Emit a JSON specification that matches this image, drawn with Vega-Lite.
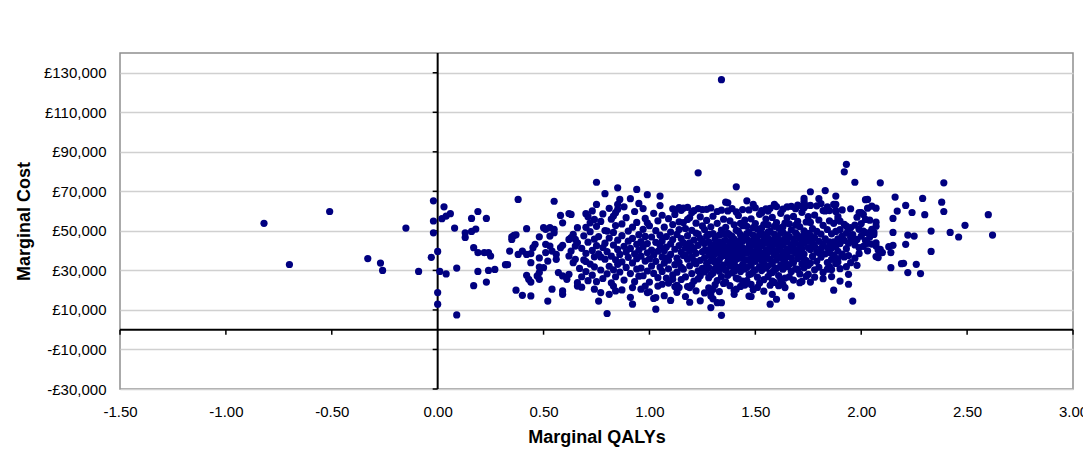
{
  "$schema": "https://vega.github.io/schema/vega-lite/v6.json",
  "width": 953,
  "height": 336,
  "autosize": {"type": "none"},
  "padding": {"left": 120, "top": 53, "right": 10, "bottom": 66},
  "background": "white",
  "config": {
    "view": {"stroke": "#8f8f8f", "strokeWidth": 1.5},
    "font": "Liberation Sans"
  },
  "datasets": {
    "xticks": [{"qaly": -1.5}, {"qaly": -1}, {"qaly": -0.5}, {"qaly": 0.5}, {"qaly": 1}, {"qaly": 1.5}, {"qaly": 2}, {"qaly": 2.5}, {"qaly": 3}],
    "yticks": [{"cost": -30000}, {"cost": -10000}, {"cost": 10000}, {"cost": 30000}, {"cost": 50000}, {"cost": 70000}, {"cost": 90000}, {"cost": 110000}, {"cost": 130000}],
    "points": [
      {"qaly": -0.82, "cost": 53800}, {"qaly": -0.70, "cost": 33000}, {"qaly": -0.51, "cost": 59800}, {"qaly": -0.33, "cost": 36000},
      {"qaly": -0.27, "cost": 33700}, {"qaly": -0.26, "cost": 30000}, {"qaly": -0.15, "cost": 51400}, {"qaly": -0.09, "cost": 29500},
      {"qaly": -0.02, "cost": 65200}, {"qaly": -0.02, "cost": 55000}, {"qaly": -0.02, "cost": 49000}, {"qaly": -0.03, "cost": 36600},
      {"qaly": 0.00, "cost": 39600}, {"qaly": 0.01, "cost": 29500}, {"qaly": 0.00, "cost": 18800}, {"qaly": 0.00, "cost": 12900},
      {"qaly": 0.03, "cost": 62200}, {"qaly": 0.02, "cost": 56200}, {"qaly": 0.04, "cost": 57500}, {"qaly": 0.06, "cost": 58700},
      {"qaly": 0.04, "cost": 28200}, {"qaly": 0.08, "cost": 51400}, {"qaly": 0.09, "cost": 31200}, {"qaly": 0.09, "cost": 7500},
      {"qaly": 0.16, "cost": 56300}, {"qaly": 0.19, "cost": 59800}, {"qaly": 0.23, "cost": 56300}, {"qaly": 0.13, "cost": 49000},
      {"qaly": 0.13, "cost": 46700}, {"qaly": 0.16, "cost": 49700}, {"qaly": 0.18, "cost": 50900}, {"qaly": 0.17, "cost": 41500},
      {"qaly": 0.19, "cost": 39000}, {"qaly": 0.22, "cost": 39000}, {"qaly": 0.24, "cost": 39000}, {"qaly": 0.25, "cost": 37300},
      {"qaly": 0.19, "cost": 29500}, {"qaly": 0.24, "cost": 30000}, {"qaly": 0.27, "cost": 30500}, {"qaly": 0.17, "cost": 22300},
      {"qaly": 0.23, "cost": 24100}, {"qaly": 0.38, "cost": 65900}, {"qaly": 0.32, "cost": 32900}, {"qaly": 0.33, "cost": 32900},
      {"qaly": 0.34, "cost": 39800}, {"qaly": 0.35, "cost": 47000}, {"qaly": 0.36, "cost": 47700}, {"qaly": 0.37, "cost": 48000},
      {"qaly": 0.35, "cost": 45700}, {"qaly": 0.37, "cost": 20000}, {"qaly": 0.40, "cost": 17400}, {"qaly": 0.44, "cost": 17100},
      {"qaly": 0.42, "cost": 27500}, {"qaly": 0.43, "cost": 25500}, {"qaly": 0.44, "cost": 24100}, {"qaly": 0.38, "cost": 38100},
      {"qaly": 0.40, "cost": 39800}, {"qaly": 0.42, "cost": 38100}, {"qaly": 0.44, "cost": 38500}, {"qaly": 0.44, "cost": 33900},
      {"qaly": 0.45, "cost": 41500}, {"qaly": 0.46, "cost": 43200}, {"qaly": 0.48, "cost": 47000}, {"qaly": 0.48, "cost": 36300},
      {"qaly": 0.48, "cost": 28900}, {"qaly": 0.47, "cost": 27200}, {"qaly": 0.48, "cost": 25500}, {"qaly": 0.42, "cost": 51100},
      {"qaly": 0.50, "cost": 51600}, {"qaly": 0.51, "cost": 50800}, {"qaly": 0.53, "cost": 51600}, {"qaly": 0.55, "cost": 50800},
      {"qaly": 0.55, "cost": 49100}, {"qaly": 0.55, "cost": 65000}, {"qaly": 0.50, "cost": 31400}, {"qaly": 0.48, "cost": 31700},
      {"qaly": 0.52, "cost": 14500}, {"qaly": 0.54, "cost": 20500}, {"qaly": 0.59, "cost": 19600}, {"qaly": 0.59, "cost": 17900},
      {"qaly": 0.53, "cost": 47400}, {"qaly": 0.51, "cost": 43200}, {"qaly": 0.53, "cost": 42300}, {"qaly": 0.51, "cost": 39000},
      {"qaly": 0.54, "cost": 39800}, {"qaly": 0.52, "cost": 34700}, {"qaly": 0.56, "cost": 35600}, {"qaly": 0.56, "cost": 38100},
      {"qaly": 0.58, "cost": 41500}, {"qaly": 0.59, "cost": 42700}, {"qaly": 0.62, "cost": 45700}, {"qaly": 0.63, "cost": 46600},
      {"qaly": 0.57, "cost": 28900}, {"qaly": 0.59, "cost": 27200}, {"qaly": 0.61, "cost": 25500}, {"qaly": 0.62, "cost": 28000},
      {"qaly": 0.66, "cost": 22100}, {"qaly": 0.66, "cost": 23800}, {"qaly": 0.65, "cost": 35600}, {"qaly": 0.64, "cost": 33900},
      {"qaly": 0.62, "cost": 37300}, {"qaly": 0.63, "cost": 39800}, {"qaly": 0.65, "cost": 42300}, {"qaly": 0.66, "cost": 44000},
      {"qaly": 0.64, "cost": 48200}, {"qaly": 0.65, "cost": 45700}, {"qaly": 0.66, "cost": 51600}, {"qaly": 0.58, "cost": 57800},
      {"qaly": 0.59, "cost": 54100}, {"qaly": 0.62, "cost": 58800}, {"qaly": 0.63, "cost": 58300}, {"qaly": 0.70, "cost": 58700},
      {"qaly": 0.74, "cost": 55800}, {"qaly": 0.75, "cost": 63400}, {"qaly": 0.75, "cost": 74600}, {"qaly": 0.79, "cost": 68800},
      {"qaly": 0.85, "cost": 71800}, {"qaly": 0.94, "cost": 71000}, {"qaly": 0.99, "cost": 68300}, {"qaly": 1.05, "cost": 67600},
      {"qaly": 1.23, "cost": 79400}, {"qaly": 1.36, "cost": 64500}, {"qaly": 0.86, "cost": 65900}, {"qaly": 0.85, "cost": 63400},
      {"qaly": 0.84, "cost": 59200}, {"qaly": 0.85, "cost": 60900}, {"qaly": 0.91, "cost": 66300}, {"qaly": 0.95, "cost": 63900},
      {"qaly": 1.34, "cost": 126500},
      {"qaly": 0.80, "cost": 8200}, {"qaly": 0.76, "cost": 14500}, {"qaly": 0.92, "cost": 12900}, {"qaly": 1.03, "cost": 10400},
      {"qaly": 1.03, "cost": 16300}, {"qaly": 0.74, "cost": 20500}, {"qaly": 0.77, "cost": 18800}, {"qaly": 0.81, "cost": 17900},
      {"qaly": 0.83, "cost": 22100}, {"qaly": 0.84, "cost": 19600}, {"qaly": 0.87, "cost": 20100}, {"qaly": 0.92, "cost": 21300},
      {"qaly": 0.96, "cost": 20500}, {"qaly": 0.98, "cost": 22100}, {"qaly": 0.99, "cost": 18800}, {"qaly": 1.04, "cost": 22100},
      {"qaly": 1.06, "cost": 23000}, {"qaly": 1.11, "cost": 25500}, {"qaly": 1.13, "cost": 22500}, {"qaly": 1.14, "cost": 21300},
      {"qaly": 1.18, "cost": 21800}, {"qaly": 1.19, "cost": 21300}, {"qaly": 1.29, "cost": 17100}, {"qaly": 1.29, "cost": 18800},
      {"qaly": 1.30, "cost": 20500}, {"qaly": 1.32, "cost": 13700}, {"qaly": 1.34, "cost": 13700}, {"qaly": 1.34, "cost": 7300},
      {"qaly": 1.29, "cost": 11200}, {"qaly": 1.41, "cost": 72300}, {"qaly": 1.93, "cost": 83700}, {"qaly": 1.92, "cost": 79900},
      {"qaly": 1.97, "cost": 74600}, {"qaly": 1.76, "cost": 69800}, {"qaly": 1.83, "cost": 70400}, {"qaly": 1.88, "cost": 67600},
      {"qaly": 1.80, "cost": 66300}, {"qaly": 1.87, "cost": 63400}, {"qaly": 2.02, "cost": 65800}, {"qaly": 2.03, "cost": 61500},
      {"qaly": 1.37, "cost": 64200}, {"qaly": 1.46, "cost": 65200}, {"qaly": 1.49, "cost": 63400}, {"qaly": 1.59, "cost": 63400},
      {"qaly": 1.73, "cost": 65000}, {"qaly": 1.72, "cost": 62500}, {"qaly": 1.76, "cost": 62900}, {"qaly": 1.41, "cost": 20500},
      {"qaly": 1.40, "cost": 17900}, {"qaly": 1.47, "cost": 17000}, {"qaly": 1.48, "cost": 16800}, {"qaly": 1.57, "cost": 22500},
      {"qaly": 1.58, "cost": 17900}, {"qaly": 1.57, "cost": 12900}, {"qaly": 1.60, "cost": 15400}, {"qaly": 1.63, "cost": 23000},
      {"qaly": 1.67, "cost": 17100}, {"qaly": 1.71, "cost": 23800}, {"qaly": 1.76, "cost": 24100}, {"qaly": 1.75, "cost": 28000},
      {"qaly": 1.84, "cost": 30600}, {"qaly": 1.87, "cost": 20000}, {"qaly": 1.90, "cost": 24600}, {"qaly": 1.94, "cost": 23000},
      {"qaly": 1.94, "cost": 28000}, {"qaly": 1.96, "cost": 14500}, {"qaly": 1.98, "cost": 32600}, {"qaly": 1.95, "cost": 33900},
      {"qaly": 1.92, "cost": 36800}, {"qaly": 1.89, "cost": 36000}, {"qaly": 1.86, "cost": 35600}, {"qaly": 1.73, "cost": 66400},
      {"qaly": 2.09, "cost": 74300}, {"qaly": 2.39, "cost": 74300}, {"qaly": 2.16, "cost": 67100}, {"qaly": 2.29, "cost": 66400},
      {"qaly": 2.38, "cost": 64500}, {"qaly": 2.39, "cost": 59800}, {"qaly": 2.21, "cost": 62900}, {"qaly": 2.24, "cost": 59300},
      {"qaly": 2.30, "cost": 58200}, {"qaly": 2.17, "cost": 60000}, {"qaly": 2.15, "cost": 56300}, {"qaly": 2.60, "cost": 58200},
      {"qaly": 2.49, "cost": 52800}, {"qaly": 2.62, "cost": 47900}, {"qaly": 2.46, "cost": 46900}, {"qaly": 2.42, "cost": 49200},
      {"qaly": 2.33, "cost": 49900}, {"qaly": 2.25, "cost": 47400}, {"qaly": 2.22, "cost": 47900}, {"qaly": 2.15, "cost": 49200},
      {"qaly": 2.33, "cost": 39600}, {"qaly": 2.21, "cost": 43200}, {"qaly": 2.15, "cost": 42700}, {"qaly": 2.13, "cost": 42000},
      {"qaly": 2.14, "cost": 39000}, {"qaly": 2.10, "cost": 39000}, {"qaly": 2.07, "cost": 37000}, {"qaly": 2.08, "cost": 40300},
      {"qaly": 2.14, "cost": 31400}, {"qaly": 2.20, "cost": 33600}, {"qaly": 2.26, "cost": 33100}, {"qaly": 2.22, "cost": 28900},
      {"qaly": 2.28, "cost": 28400}, {"qaly": 2.07, "cost": 54400}, {"qaly": 2.04, "cost": 55400}, {"qaly": 2.02, "cost": 55800},
      {"qaly": 2.06, "cost": 49400}, {"qaly": 2.05, "cost": 50800}, {"qaly": 2.03, "cost": 65900}, {"qaly": 2.05, "cost": 62500},
      {"qaly": 2.07, "cost": 61500}, {"qaly": 2.19, "cost": 33400}, {"qaly": 2.08, "cost": 36500}, {"qaly": 2.09, "cost": 39000},
      {"qaly": 2.07, "cost": 42300}, {"qaly": 2.07, "cost": 44000}, {"qaly": 2.04, "cost": 49100}, {"qaly": 2.03, "cost": 44000},
      {"qaly": 2.09, "cost": 40700}, {"qaly": 2.03, "cost": 43700}, {"qaly": 2.06, "cost": 48200}, {"qaly": 2.07, "cost": 52400},
      {"qaly": 2.02, "cost": 49100}, {"qaly": 1.99, "cost": 50800}, {"qaly": 1.95, "cost": 51600}, {"qaly": 1.93, "cost": 52400},
      {"qaly": 1.90, "cost": 54900}, {"qaly": 1.94, "cost": 50800}, {"qaly": 1.96, "cost": 44800}, {"qaly": 1.99, "cost": 41500},
      {"qaly": 1.89, "cost": 34200}, {"qaly": 1.88, "cost": 60300}, {"qaly": 1.85, "cost": 60300}, {"qaly": 1.82, "cost": 60300},
      {"qaly": 1.69, "cost": 61200}, {"qaly": 1.73, "cost": 61700}, {"qaly": 1.59, "cost": 62900}, {"qaly": 1.53, "cost": 59200},
      {"qaly": 1.56, "cost": 60000}, {"qaly": 1.89, "cost": 55800}, {"qaly": 1.95, "cost": 61200}, {"qaly": 1.99, "cost": 59200},
      {"qaly": 2.00, "cost": 59200}, {"qaly": 1.88, "cost": 63400},
      {"qaly": 0.67, "cost": 31000}, {"qaly": 0.68, "cost": 41200}, {"qaly": 0.68, "cost": 26800}, {"qaly": 0.69, "cost": 47500},
      {"qaly": 0.69, "cost": 35300}, {"qaly": 0.70, "cost": 51800}, {"qaly": 0.70, "cost": 38600}, {"qaly": 0.70, "cost": 29400},
      {"qaly": 0.71, "cost": 44300}, {"qaly": 0.71, "cost": 24800}, {"qaly": 0.72, "cost": 33200}, {"qaly": 0.72, "cost": 49600},
      {"qaly": 0.72, "cost": 54100}, {"qaly": 0.73, "cost": 40100}, {"qaly": 0.73, "cost": 27600}, {"qaly": 0.74, "cost": 36900},
      {"qaly": 0.74, "cost": 45800}, {"qaly": 0.74, "cost": 31800}, {"qaly": 0.75, "cost": 52300}, {"qaly": 0.75, "cost": 42500},
      {"qaly": 0.75, "cost": 24300}, {"qaly": 0.71, "cost": 57200}, {"qaly": 0.73, "cost": 60100}, {"qaly": 0.68, "cost": 21500},
      {"qaly": 0.70, "cost": 34500},
      {"qaly": 0.76, "cost": 38400}, {"qaly": 0.76, "cost": 47100}, {"qaly": 0.77, "cost": 30200}, {"qaly": 0.77, "cost": 54800},
      {"qaly": 0.78, "cost": 41600}, {"qaly": 0.78, "cost": 25900}, {"qaly": 0.79, "cost": 35700}, {"qaly": 0.79, "cost": 50200},
      {"qaly": 0.79, "cost": 43800}, {"qaly": 0.80, "cost": 28300}, {"qaly": 0.80, "cost": 39500}, {"qaly": 0.81, "cost": 46400},
      {"qaly": 0.81, "cost": 32100}, {"qaly": 0.82, "cost": 55900}, {"qaly": 0.82, "cost": 37200}, {"qaly": 0.82, "cost": 23700},
      {"qaly": 0.83, "cost": 42800}, {"qaly": 0.83, "cost": 49200}, {"qaly": 0.83, "cost": 30300}, {"qaly": 0.84, "cost": 35400},
      {"qaly": 0.84, "cost": 52700}, {"qaly": 0.84, "cost": 26800}, {"qaly": 0.85, "cost": 40600}, {"qaly": 0.85, "cost": 45300},
      {"qaly": 0.85, "cost": 33100}, {"qaly": 0.78, "cost": 58600}, {"qaly": 0.81, "cost": 61400}, {"qaly": 0.80, "cost": 49900},
      {"qaly": 0.77, "cost": 36800}, {"qaly": 0.83, "cost": 57500},
      {"qaly": 0.86, "cost": 38100}, {"qaly": 0.86, "cost": 29200}, {"qaly": 0.87, "cost": 47600}, {"qaly": 0.87, "cost": 53500},
      {"qaly": 0.87, "cost": 34300}, {"qaly": 0.88, "cost": 42200}, {"qaly": 0.88, "cost": 25100}, {"qaly": 0.89, "cost": 39200},
      {"qaly": 0.89, "cost": 56700}, {"qaly": 0.89, "cost": 31500}, {"qaly": 0.90, "cost": 44800}, {"qaly": 0.90, "cost": 36600},
      {"qaly": 0.90, "cost": 49900}, {"qaly": 0.91, "cost": 28400}, {"qaly": 0.91, "cost": 41100}, {"qaly": 0.92, "cost": 33800},
      {"qaly": 0.92, "cost": 51900}, {"qaly": 0.92, "cost": 46200}, {"qaly": 0.93, "cost": 38400}, {"qaly": 0.93, "cost": 24300},
      {"qaly": 0.93, "cost": 59800}, {"qaly": 0.94, "cost": 43200}, {"qaly": 0.94, "cost": 30700}, {"qaly": 0.94, "cost": 35900},
      {"qaly": 0.95, "cost": 48100}, {"qaly": 0.95, "cost": 40200}, {"qaly": 0.95, "cost": 27100}, {"qaly": 0.88, "cost": 62200},
      {"qaly": 0.91, "cost": 16400}, {"qaly": 0.94, "cost": 54300},
      {"qaly": 0.96, "cost": 37200}, {"qaly": 0.96, "cost": 44600}, {"qaly": 0.96, "cost": 31200}, {"qaly": 0.97, "cost": 50800},
      {"qaly": 0.97, "cost": 27300}, {"qaly": 0.97, "cost": 41900}, {"qaly": 0.98, "cost": 34700}, {"qaly": 0.98, "cost": 56300},
      {"qaly": 0.98, "cost": 47200}, {"qaly": 0.99, "cost": 38900}, {"qaly": 0.99, "cost": 29700}, {"qaly": 0.99, "cost": 43600},
      {"qaly": 1.00, "cost": 52600}, {"qaly": 1.00, "cost": 35800}, {"qaly": 1.00, "cost": 24100}, {"qaly": 1.01, "cost": 40300},
      {"qaly": 1.01, "cost": 46900}, {"qaly": 1.01, "cost": 32200}, {"qaly": 1.02, "cost": 58900}, {"qaly": 1.02, "cost": 37700},
      {"qaly": 1.02, "cost": 28500}, {"qaly": 1.03, "cost": 44200}, {"qaly": 1.03, "cost": 50100}, {"qaly": 1.03, "cost": 34600},
      {"qaly": 1.04, "cost": 39700}, {"qaly": 1.04, "cost": 26300}, {"qaly": 1.04, "cost": 55100}, {"qaly": 1.05, "cost": 42500},
      {"qaly": 1.05, "cost": 31700}, {"qaly": 1.05, "cost": 47800}, {"qaly": 0.97, "cost": 61300}, {"qaly": 1.00, "cost": 19200},
      {"qaly": 1.02, "cost": 15800}, {"qaly": 1.05, "cost": 62800}, {"qaly": 0.99, "cost": 54100},
      {"qaly": 1.06, "cost": 36800}, {"qaly": 1.06, "cost": 44900}, {"qaly": 1.06, "cost": 29500}, {"qaly": 1.07, "cost": 51900},
      {"qaly": 1.07, "cost": 39900}, {"qaly": 1.07, "cost": 33700}, {"qaly": 1.08, "cost": 47100}, {"qaly": 1.08, "cost": 26100},
      {"qaly": 1.08, "cost": 41800}, {"qaly": 1.09, "cost": 56200}, {"qaly": 1.09, "cost": 35200}, {"qaly": 1.09, "cost": 30800},
      {"qaly": 1.10, "cost": 43400}, {"qaly": 1.10, "cost": 49400}, {"qaly": 1.10, "cost": 38100}, {"qaly": 1.11, "cost": 27700},
      {"qaly": 1.11, "cost": 53200}, {"qaly": 1.11, "cost": 45600}, {"qaly": 1.12, "cost": 32900}, {"qaly": 1.12, "cost": 40700},
      {"qaly": 1.12, "cost": 58300}, {"qaly": 1.13, "cost": 36200}, {"qaly": 1.13, "cost": 48200}, {"qaly": 1.13, "cost": 29100},
      {"qaly": 1.14, "cost": 42600}, {"qaly": 1.14, "cost": 54600}, {"qaly": 1.14, "cost": 34100}, {"qaly": 1.15, "cost": 39300},
      {"qaly": 1.15, "cost": 46100}, {"qaly": 1.15, "cost": 25400}, {"qaly": 1.11, "cost": 61200}, {"qaly": 1.12, "cost": 60700},
      {"qaly": 1.14, "cost": 61800}, {"qaly": 1.15, "cost": 60400}, {"qaly": 1.16, "cost": 61500}, {"qaly": 1.07, "cost": 17200},
      {"qaly": 1.10, "cost": 14800}, {"qaly": 1.13, "cost": 18900}, {"qaly": 1.09, "cost": 23600}, {"qaly": 1.06, "cost": 57900},
      {"qaly": 1.12, "cost": 21800}, {"qaly": 1.15, "cost": 31600}, {"qaly": 1.08, "cost": 36300}, {"qaly": 1.14, "cost": 50700},
      {"qaly": 1.16, "cost": 37500}, {"qaly": 1.16, "cost": 44100}, {"qaly": 1.16, "cost": 30600}, {"qaly": 1.17, "cost": 51200},
      {"qaly": 1.17, "cost": 41300}, {"qaly": 1.17, "cost": 26700}, {"qaly": 1.18, "cost": 35700}, {"qaly": 1.18, "cost": 47600},
      {"qaly": 1.18, "cost": 55800}, {"qaly": 1.19, "cost": 39800}, {"qaly": 1.19, "cost": 32300}, {"qaly": 1.19, "cost": 43900},
      {"qaly": 1.20, "cost": 28400}, {"qaly": 1.20, "cost": 50300}, {"qaly": 1.20, "cost": 36900}, {"qaly": 1.21, "cost": 45300},
      {"qaly": 1.21, "cost": 41200}, {"qaly": 1.21, "cost": 24600}, {"qaly": 1.22, "cost": 53900}, {"qaly": 1.22, "cost": 33400},
      {"qaly": 1.22, "cost": 38600}, {"qaly": 1.23, "cost": 48400}, {"qaly": 1.23, "cost": 29800}, {"qaly": 1.23, "cost": 42700},
      {"qaly": 1.24, "cost": 57100}, {"qaly": 1.24, "cost": 35100}, {"qaly": 1.24, "cost": 46200}, {"qaly": 1.25, "cost": 39400},
      {"qaly": 1.25, "cost": 31100}, {"qaly": 1.25, "cost": 52500}, {"qaly": 1.18, "cost": 61900}, {"qaly": 1.21, "cost": 60200},
      {"qaly": 1.23, "cost": 61300}, {"qaly": 1.20, "cost": 59300}, {"qaly": 1.25, "cost": 60800}, {"qaly": 1.17, "cost": 16800},
      {"qaly": 1.19, "cost": 13900}, {"qaly": 1.22, "cost": 19700}, {"qaly": 1.24, "cost": 14600}, {"qaly": 1.20, "cost": 22600},
      {"qaly": 1.23, "cost": 25700}, {"qaly": 1.18, "cost": 43200}, {"qaly": 1.21, "cost": 34900}, {"qaly": 1.24, "cost": 27300},
      {"qaly": 1.16, "cost": 54200}, {"qaly": 1.22, "cost": 48900}, {"qaly": 1.19, "cost": 56700}, {"qaly": 1.25, "cost": 44800},
      {"qaly": 1.17, "cost": 37800}, {"qaly": 1.20, "cost": 41800},
      {"qaly": 1.26, "cost": 36400}, {"qaly": 1.26, "cost": 43600}, {"qaly": 1.26, "cost": 29200}, {"qaly": 1.26, "cost": 50700},
      {"qaly": 1.27, "cost": 40100}, {"qaly": 1.27, "cost": 33600}, {"qaly": 1.27, "cost": 47300}, {"qaly": 1.27, "cost": 55300},
      {"qaly": 1.28, "cost": 37900}, {"qaly": 1.28, "cost": 26300}, {"qaly": 1.28, "cost": 44500}, {"qaly": 1.28, "cost": 31400},
      {"qaly": 1.29, "cost": 52100}, {"qaly": 1.29, "cost": 39200}, {"qaly": 1.29, "cost": 34800}, {"qaly": 1.29, "cost": 42400},
      {"qaly": 1.30, "cost": 48600}, {"qaly": 1.30, "cost": 28700}, {"qaly": 1.30, "cost": 36100}, {"qaly": 1.30, "cost": 57400},
      {"qaly": 1.31, "cost": 41600}, {"qaly": 1.31, "cost": 45900}, {"qaly": 1.31, "cost": 30900}, {"qaly": 1.31, "cost": 38300},
      {"qaly": 1.32, "cost": 53800}, {"qaly": 1.32, "cost": 33200}, {"qaly": 1.32, "cost": 24900}, {"qaly": 1.32, "cost": 43100},
      {"qaly": 1.33, "cost": 39600}, {"qaly": 1.33, "cost": 47900}, {"qaly": 1.33, "cost": 35300}, {"qaly": 1.33, "cost": 29600},
      {"qaly": 1.34, "cost": 50400}, {"qaly": 1.34, "cost": 41900}, {"qaly": 1.34, "cost": 37100}, {"qaly": 1.34, "cost": 26900},
      {"qaly": 1.35, "cost": 44700}, {"qaly": 1.35, "cost": 32700}, {"qaly": 1.35, "cost": 55900}, {"qaly": 1.35, "cost": 39000},
      {"qaly": 1.27, "cost": 60900}, {"qaly": 1.29, "cost": 61600}, {"qaly": 1.32, "cost": 59800}, {"qaly": 1.34, "cost": 60500},
      {"qaly": 1.28, "cost": 21200}, {"qaly": 1.31, "cost": 22800}, {"qaly": 1.33, "cost": 19300}, {"qaly": 1.30, "cost": 15600},
      {"qaly": 1.35, "cost": 23400}, {"qaly": 1.26, "cost": 18600}, {"qaly": 1.28, "cost": 48200}, {"qaly": 1.30, "cost": 42900},
      {"qaly": 1.33, "cost": 44300}, {"qaly": 1.35, "cost": 48300}, {"qaly": 1.27, "cost": 30400}, {"qaly": 1.29, "cost": 27800},
      {"qaly": 1.31, "cost": 34100}, {"qaly": 1.34, "cost": 31600}, {"qaly": 1.26, "cost": 40200},
      {"qaly": 1.36, "cost": 37600}, {"qaly": 1.36, "cost": 45200}, {"qaly": 1.36, "cost": 30100}, {"qaly": 1.36, "cost": 51800},
      {"qaly": 1.37, "cost": 41100}, {"qaly": 1.37, "cost": 34400}, {"qaly": 1.37, "cost": 48700}, {"qaly": 1.37, "cost": 27500},
      {"qaly": 1.38, "cost": 39600}, {"qaly": 1.38, "cost": 55100}, {"qaly": 1.38, "cost": 44300}, {"qaly": 1.38, "cost": 32200},
      {"qaly": 1.39, "cost": 36800}, {"qaly": 1.39, "cost": 47200}, {"qaly": 1.39, "cost": 28800}, {"qaly": 1.39, "cost": 42100},
      {"qaly": 1.40, "cost": 53100}, {"qaly": 1.40, "cost": 38400}, {"qaly": 1.40, "cost": 33900}, {"qaly": 1.40, "cost": 45800},
      {"qaly": 1.41, "cost": 40700}, {"qaly": 1.41, "cost": 26100}, {"qaly": 1.41, "cost": 50300}, {"qaly": 1.41, "cost": 35700},
      {"qaly": 1.42, "cost": 43400}, {"qaly": 1.42, "cost": 57800}, {"qaly": 1.42, "cost": 31300}, {"qaly": 1.42, "cost": 38900},
      {"qaly": 1.43, "cost": 48100}, {"qaly": 1.43, "cost": 41900}, {"qaly": 1.43, "cost": 29400}, {"qaly": 1.43, "cost": 36200},
      {"qaly": 1.44, "cost": 52600}, {"qaly": 1.44, "cost": 44900}, {"qaly": 1.44, "cost": 33000}, {"qaly": 1.44, "cost": 24600},
      {"qaly": 1.45, "cost": 39300}, {"qaly": 1.45, "cost": 46600}, {"qaly": 1.45, "cost": 30700}, {"qaly": 1.45, "cost": 55400},
      {"qaly": 1.37, "cost": 60100}, {"qaly": 1.39, "cost": 61300}, {"qaly": 1.41, "cost": 59600}, {"qaly": 1.44, "cost": 60800},
      {"qaly": 1.38, "cost": 22300}, {"qaly": 1.40, "cost": 19800}, {"qaly": 1.43, "cost": 21900}, {"qaly": 1.36, "cost": 24200},
      {"qaly": 1.45, "cost": 22600}, {"qaly": 1.42, "cost": 25700}, {"qaly": 1.38, "cost": 47900}, {"qaly": 1.40, "cost": 42400},
      {"qaly": 1.42, "cost": 49800}, {"qaly": 1.44, "cost": 38100}, {"qaly": 1.36, "cost": 41800}, {"qaly": 1.39, "cost": 32800},
      {"qaly": 1.41, "cost": 44600}, {"qaly": 1.43, "cost": 53800}, {"qaly": 1.45, "cost": 35100}, {"qaly": 1.37, "cost": 37400},
      {"qaly": 1.40, "cost": 29600}, {"qaly": 1.43, "cost": 45300}, {"qaly": 1.38, "cost": 35800}, {"qaly": 1.41, "cost": 31800},
      {"qaly": 1.44, "cost": 41500},
      {"qaly": 1.46, "cost": 38700}, {"qaly": 1.46, "cost": 45900}, {"qaly": 1.46, "cost": 31500}, {"qaly": 1.46, "cost": 52300},
      {"qaly": 1.47, "cost": 41900}, {"qaly": 1.47, "cost": 35100}, {"qaly": 1.47, "cost": 49200}, {"qaly": 1.47, "cost": 27900},
      {"qaly": 1.48, "cost": 39900}, {"qaly": 1.48, "cost": 56100}, {"qaly": 1.48, "cost": 44700}, {"qaly": 1.48, "cost": 32600},
      {"qaly": 1.49, "cost": 37400}, {"qaly": 1.49, "cost": 47800}, {"qaly": 1.49, "cost": 29300}, {"qaly": 1.49, "cost": 42800},
      {"qaly": 1.50, "cost": 53700}, {"qaly": 1.50, "cost": 39100}, {"qaly": 1.50, "cost": 34600}, {"qaly": 1.50, "cost": 46400},
      {"qaly": 1.51, "cost": 41300}, {"qaly": 1.51, "cost": 26600}, {"qaly": 1.51, "cost": 50900}, {"qaly": 1.51, "cost": 36300},
      {"qaly": 1.52, "cost": 44000}, {"qaly": 1.52, "cost": 58400}, {"qaly": 1.52, "cost": 31900}, {"qaly": 1.52, "cost": 39500},
      {"qaly": 1.53, "cost": 48700}, {"qaly": 1.53, "cost": 42500}, {"qaly": 1.53, "cost": 29900}, {"qaly": 1.53, "cost": 36900},
      {"qaly": 1.54, "cost": 53200}, {"qaly": 1.54, "cost": 45500}, {"qaly": 1.54, "cost": 33600}, {"qaly": 1.54, "cost": 25300},
      {"qaly": 1.55, "cost": 40100}, {"qaly": 1.55, "cost": 47300}, {"qaly": 1.55, "cost": 31200}, {"qaly": 1.55, "cost": 56000},
      {"qaly": 1.47, "cost": 60600}, {"qaly": 1.50, "cost": 61700}, {"qaly": 1.53, "cost": 60300}, {"qaly": 1.55, "cost": 61200},
      {"qaly": 1.48, "cost": 22900}, {"qaly": 1.51, "cost": 21400}, {"qaly": 1.54, "cost": 19500}, {"qaly": 1.46, "cost": 24800},
      {"qaly": 1.49, "cost": 20200}, {"qaly": 1.52, "cost": 23600}, {"qaly": 1.47, "cost": 44100}, {"qaly": 1.49, "cost": 51600},
      {"qaly": 1.51, "cost": 45100}, {"qaly": 1.53, "cost": 35200}, {"qaly": 1.55, "cost": 43700}, {"qaly": 1.46, "cost": 35300},
      {"qaly": 1.48, "cost": 28300}, {"qaly": 1.50, "cost": 43100}, {"qaly": 1.52, "cost": 48100}, {"qaly": 1.54, "cost": 38600},
      {"qaly": 1.46, "cost": 48600}, {"qaly": 1.50, "cost": 30300}, {"qaly": 1.53, "cost": 51400}, {"qaly": 1.55, "cost": 36500},
      {"qaly": 1.48, "cost": 36100},
      {"qaly": 1.56, "cost": 39200}, {"qaly": 1.56, "cost": 46500}, {"qaly": 1.56, "cost": 32300}, {"qaly": 1.56, "cost": 53000},
      {"qaly": 1.57, "cost": 42400}, {"qaly": 1.57, "cost": 35700}, {"qaly": 1.57, "cost": 49800}, {"qaly": 1.57, "cost": 28700},
      {"qaly": 1.58, "cost": 40600}, {"qaly": 1.58, "cost": 56800}, {"qaly": 1.58, "cost": 45300}, {"qaly": 1.58, "cost": 33200},
      {"qaly": 1.59, "cost": 38000}, {"qaly": 1.59, "cost": 48400}, {"qaly": 1.59, "cost": 30100}, {"qaly": 1.59, "cost": 43400},
      {"qaly": 1.60, "cost": 54200}, {"qaly": 1.60, "cost": 39700}, {"qaly": 1.60, "cost": 35300}, {"qaly": 1.60, "cost": 47000},
      {"qaly": 1.61, "cost": 41900}, {"qaly": 1.61, "cost": 27400}, {"qaly": 1.61, "cost": 51500}, {"qaly": 1.61, "cost": 37000},
      {"qaly": 1.62, "cost": 44600}, {"qaly": 1.62, "cost": 58900}, {"qaly": 1.62, "cost": 32600}, {"qaly": 1.62, "cost": 40200},
      {"qaly": 1.63, "cost": 49300}, {"qaly": 1.63, "cost": 43100}, {"qaly": 1.63, "cost": 30600}, {"qaly": 1.63, "cost": 37600},
      {"qaly": 1.64, "cost": 53900}, {"qaly": 1.64, "cost": 46100}, {"qaly": 1.64, "cost": 34300}, {"qaly": 1.64, "cost": 26100},
      {"qaly": 1.65, "cost": 40800}, {"qaly": 1.65, "cost": 48000}, {"qaly": 1.65, "cost": 31900}, {"qaly": 1.65, "cost": 56600},
      {"qaly": 1.57, "cost": 61400}, {"qaly": 1.60, "cost": 62300}, {"qaly": 1.63, "cost": 61000}, {"qaly": 1.65, "cost": 62100},
      {"qaly": 1.58, "cost": 24600}, {"qaly": 1.61, "cost": 22300}, {"qaly": 1.64, "cost": 21300}, {"qaly": 1.56, "cost": 26900},
      {"qaly": 1.59, "cost": 23900}, {"qaly": 1.62, "cost": 25400}, {"qaly": 1.57, "cost": 44600}, {"qaly": 1.59, "cost": 52300},
      {"qaly": 1.61, "cost": 45800}, {"qaly": 1.63, "cost": 35800}, {"qaly": 1.65, "cost": 44300}, {"qaly": 1.56, "cost": 36100},
      {"qaly": 1.58, "cost": 29000}, {"qaly": 1.60, "cost": 43800}, {"qaly": 1.62, "cost": 48900}, {"qaly": 1.64, "cost": 39300},
      {"qaly": 1.56, "cost": 49400}, {"qaly": 1.60, "cost": 31000}, {"qaly": 1.63, "cost": 52000}, {"qaly": 1.65, "cost": 37100},
      {"qaly": 1.66, "cost": 39900}, {"qaly": 1.66, "cost": 47100}, {"qaly": 1.66, "cost": 33000}, {"qaly": 1.66, "cost": 53600},
      {"qaly": 1.67, "cost": 43000}, {"qaly": 1.67, "cost": 36400}, {"qaly": 1.67, "cost": 50500}, {"qaly": 1.67, "cost": 29500},
      {"qaly": 1.68, "cost": 41300}, {"qaly": 1.68, "cost": 57300}, {"qaly": 1.68, "cost": 45900}, {"qaly": 1.68, "cost": 33900},
      {"qaly": 1.69, "cost": 38700}, {"qaly": 1.69, "cost": 49000}, {"qaly": 1.69, "cost": 30800}, {"qaly": 1.69, "cost": 44000},
      {"qaly": 1.70, "cost": 54800}, {"qaly": 1.70, "cost": 40400}, {"qaly": 1.70, "cost": 36000}, {"qaly": 1.70, "cost": 47700},
      {"qaly": 1.71, "cost": 42600}, {"qaly": 1.71, "cost": 28200}, {"qaly": 1.71, "cost": 52100}, {"qaly": 1.71, "cost": 37700},
      {"qaly": 1.72, "cost": 45300}, {"qaly": 1.72, "cost": 59400}, {"qaly": 1.72, "cost": 33300}, {"qaly": 1.72, "cost": 40900},
      {"qaly": 1.73, "cost": 50000}, {"qaly": 1.73, "cost": 43700}, {"qaly": 1.73, "cost": 31300}, {"qaly": 1.73, "cost": 38300},
      {"qaly": 1.74, "cost": 54500}, {"qaly": 1.74, "cost": 46800}, {"qaly": 1.74, "cost": 35000}, {"qaly": 1.74, "cost": 27000},
      {"qaly": 1.75, "cost": 41500}, {"qaly": 1.75, "cost": 48700}, {"qaly": 1.75, "cost": 32600}, {"qaly": 1.75, "cost": 57200},
      {"qaly": 1.67, "cost": 62400}, {"qaly": 1.70, "cost": 63100}, {"qaly": 1.74, "cost": 62800}, {"qaly": 1.68, "cost": 25100},
      {"qaly": 1.72, "cost": 24400}, {"qaly": 1.66, "cost": 26700}, {"qaly": 1.69, "cost": 52900}, {"qaly": 1.71, "cost": 46500},
      {"qaly": 1.73, "cost": 35600}, {"qaly": 1.75, "cost": 44900}, {"qaly": 1.67, "cost": 39800}, {"qaly": 1.70, "cost": 30500},
      {"qaly": 1.73, "cost": 47600},
      {"qaly": 1.76, "cost": 40600}, {"qaly": 1.76, "cost": 47800}, {"qaly": 1.76, "cost": 33700}, {"qaly": 1.76, "cost": 54300},
      {"qaly": 1.77, "cost": 43700}, {"qaly": 1.77, "cost": 37100}, {"qaly": 1.77, "cost": 51200}, {"qaly": 1.78, "cost": 30300},
      {"qaly": 1.78, "cost": 42000}, {"qaly": 1.78, "cost": 58000}, {"qaly": 1.78, "cost": 46600}, {"qaly": 1.79, "cost": 34600},
      {"qaly": 1.79, "cost": 39400}, {"qaly": 1.79, "cost": 49700}, {"qaly": 1.80, "cost": 31600}, {"qaly": 1.80, "cost": 44700},
      {"qaly": 1.80, "cost": 55500}, {"qaly": 1.81, "cost": 41100}, {"qaly": 1.81, "cost": 36700}, {"qaly": 1.81, "cost": 48400},
      {"qaly": 1.82, "cost": 43300}, {"qaly": 1.82, "cost": 29000}, {"qaly": 1.82, "cost": 52800}, {"qaly": 1.83, "cost": 38400},
      {"qaly": 1.83, "cost": 46000}, {"qaly": 1.83, "cost": 60100}, {"qaly": 1.84, "cost": 34000}, {"qaly": 1.84, "cost": 41600},
      {"qaly": 1.84, "cost": 50700}, {"qaly": 1.85, "cost": 44400}, {"qaly": 1.85, "cost": 32000}, {"qaly": 1.85, "cost": 39000},
      {"qaly": 1.79, "cost": 62700}, {"qaly": 1.81, "cost": 63800}, {"qaly": 1.84, "cost": 62200}, {"qaly": 1.78, "cost": 26600},
      {"qaly": 1.82, "cost": 25800}, {"qaly": 1.80, "cost": 38900}, {"qaly": 1.85, "cost": 55100}, {"qaly": 1.77, "cost": 45600},
      {"qaly": 1.86, "cost": 41300}, {"qaly": 1.86, "cost": 48500}, {"qaly": 1.86, "cost": 30500}, {"qaly": 1.87, "cost": 44500},
      {"qaly": 1.87, "cost": 53800}, {"qaly": 1.87, "cost": 37700}, {"qaly": 1.88, "cost": 49700}, {"qaly": 1.88, "cost": 42100},
      {"qaly": 1.88, "cost": 33500}, {"qaly": 1.89, "cost": 46000}, {"qaly": 1.89, "cost": 57200}, {"qaly": 1.89, "cost": 39700},
      {"qaly": 1.90, "cost": 43600}, {"qaly": 1.90, "cost": 50700}, {"qaly": 1.90, "cost": 30900}, {"qaly": 1.91, "cost": 47500},
      {"qaly": 1.91, "cost": 38300}, {"qaly": 1.92, "cost": 45200}, {"qaly": 1.92, "cost": 53300}, {"qaly": 1.93, "cost": 41000},
      {"qaly": 1.93, "cost": 48800}, {"qaly": 1.94, "cost": 43800}, {"qaly": 1.94, "cost": 37500}, {"qaly": 1.95, "cost": 46700},
      {"qaly": 1.88, "cost": 59800}, {"qaly": 1.91, "cost": 60600}, {"qaly": 1.86, "cost": 26900}, {"qaly": 1.93, "cost": 31900},
      {"qaly": 1.96, "cost": 48100}, {"qaly": 1.97, "cost": 42900}, {"qaly": 1.97, "cost": 52900}, {"qaly": 1.98, "cost": 45700},
      {"qaly": 1.99, "cost": 38500}, {"qaly": 2.00, "cost": 47300}, {"qaly": 2.00, "cost": 53700}, {"qaly": 2.01, "cost": 42200},
      {"qaly": 2.01, "cost": 49900}, {"qaly": 2.02, "cost": 45100}, {"qaly": 2.03, "cost": 39900}, {"qaly": 2.04, "cost": 46900},
      {"qaly": 2.05, "cost": 43300}, {"qaly": 1.98, "cost": 56900}, {"qaly": 2.01, "cost": 58300}, {"qaly": 1.97, "cost": 36200}
    ]
  },
  "layer": [
    {
      "data": {"values": [{}]},
      "mark": {"type": "rule", "color": "black", "strokeWidth": 2},
      "encoding": {"x": {"datum": 0, "type": "quantitative"}}
    },
    {
      "data": {"values": [{}]},
      "mark": {"type": "rule", "color": "black", "strokeWidth": 2},
      "encoding": {"y": {"datum": 0, "type": "quantitative"}}
    },
    {
      "data": {"name": "xticks"},
      "mark": {"type": "tick", "orient": "vertical", "size": 5, "thickness": 1.5, "color": "black", "yOffset": 2.5, "opacity": 1},
      "encoding": {
        "x": {"field": "qaly", "type": "quantitative", "title": "Marginal QALYs"},
        "y": {"datum": 0, "type": "quantitative"}
      }
    },
    {
      "data": {"name": "yticks"},
      "mark": {"type": "tick", "orient": "horizontal", "size": 5, "thickness": 1.5, "color": "black", "xOffset": -2.5, "opacity": 1},
      "encoding": {
        "y": {"field": "cost", "type": "quantitative", "title": "Marginal Cost"},
        "x": {"datum": 0, "type": "quantitative"}
      }
    },
    {
      "data": {"name": "points"},
      "mark": {"type": "circle", "size": 52, "color": "#000080", "opacity": 1},
      "encoding": {
        "x": {
          "field": "qaly", "type": "quantitative", "title": "Marginal QALYs",
          "scale": {"domain": [-1.5, 3], "nice": false, "zero": false},
          "axis": {
            "values": [-1.5, -1, -0.5, 0, 0.5, 1, 1.5, 2, 2.5, 3],
            "labelExpr": "(datum.value < 0 ? '-' : '') + format(abs(datum.value), '.2f')",
            "grid": false, "domain": false, "ticks": false, "tickSize": 0,
            "labelPadding": 15, "labelFontSize": 15, "labelColor": "black", "labelFont": "Liberation Sans",
            "labelFlush": false, "labelOverlap": false, "labelBound": false,
            "titleFont": "Liberation Sans", "titleFontSize": 18, "titleFontWeight": "bold", "titleColor": "black", "titlePadding": 9
          }
        },
        "y": {
          "field": "cost", "type": "quantitative", "title": "Marginal Cost",
          "scale": {"domain": [-30000, 140000], "nice": false, "zero": false},
          "axis": {
            "values": [-30000, -10000, 10000, 30000, 50000, 70000, 90000, 110000, 130000],
            "labelExpr": "(datum.value < 0 ? '-£' : '£') + format(abs(datum.value), ',')",
            "grid": true, "gridColor": "#d0d0d0", "gridWidth": 1.5,
            "domain": false, "ticks": false, "tickSize": 0,
            "labelPadding": 14, "labelFontSize": 15, "labelColor": "black", "labelFont": "Liberation Sans",
            "labelOverlap": false, "labelBound": false,
            "titleFont": "Liberation Sans", "titleFontSize": 18, "titleFontWeight": "bold", "titleColor": "black", "titlePadding": 10
          }
        }
      }
    }
  ]
}
